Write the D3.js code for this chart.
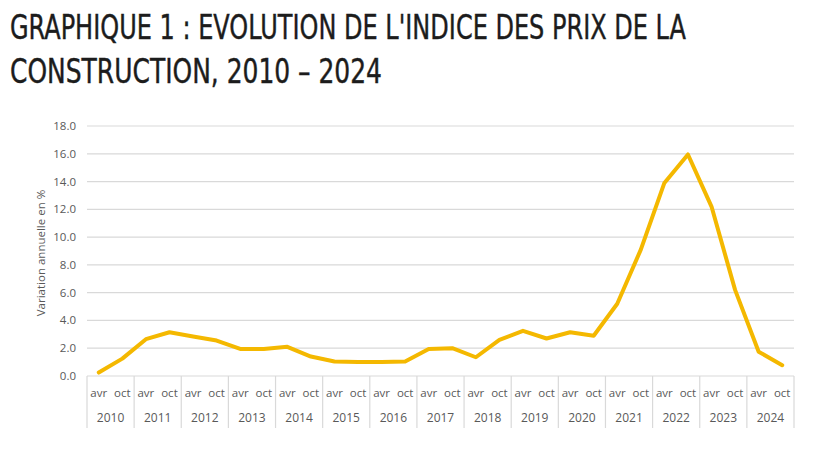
<!DOCTYPE html>
<html>
<head>
<meta charset="utf-8">
<script src="https://cdn.jsdelivr.net/npm/d3@7"></script>
<style>
  body { margin: 0; background: #fff; }
  svg { display: block; }
</style>
</head>
<body>
<script>
// data
var years = ['2010','2011','2012','2013','2014','2015','2016','2017','2018','2019','2020','2021','2022','2023','2024'];
var halves = ['avr','oct'];
var values = [0.25, 1.25, 2.65, 3.15, 2.85, 2.55, 1.95, 1.95, 2.1, 1.4,
              1.05, 1.0, 1.0, 1.05, 1.95, 2.0, 1.35, 2.6, 3.25, 2.7,
              3.15, 2.9, 5.2, 9.1, 13.9, 15.95, 12.2, 6.2, 1.75, 0.78];
var yTicks = [0, 2, 4, 6, 8, 10, 12, 14, 16, 18];
var titleLines = ["GRAPHIQUE 1 : EVOLUTION DE L'INDICE DES PRIX DE LA", "CONSTRUCTION, 2010 – 2024"];
var yLabel = 'Variation annuelle en %';

var w = 820, h = 449;
// plot area (named to avoid window.top)
var plotLeft = 87, plotRight = 794, plotTop = 126, plotBottom = 376;

var svg = d3.select('body').append('svg')
  .attr('width', w)
  .attr('height', h);

// title
var titleWidths = [676, 372];
svg.selectAll('text.title')
  .data(titleLines)
  .join('text')
  .attr('class', 'title')
  .attr('x', 10)
  .attr('y', function(d, i){ return 39 + i * 44 })
  .attr('textLength', function(d, i){ return titleWidths[i] })
  .attr('lengthAdjust', 'spacingAndGlyphs')
  .style('font-family', '"Liberation Sans Narrow", "DejaVu Sans Condensed", sans-serif')
  .style('font-size', '33px')
  .style('fill', '#1c1c1c')
  .style('stroke', '#1c1c1c')
  .style('stroke-width', 0.4)
  .text(function(d){ return d });

// periods: one per half-year
var periods = [];
years.forEach(function(yr){
  halves.forEach(function(hf){ periods.push(yr + '-' + hf) });
});

var x = d3.scaleBand().domain(periods).range([plotLeft, plotRight]);
var xYear = d3.scaleBand().domain(years).range([plotLeft, plotRight]);
var y = d3.scaleLinear().domain([0, 18]).range([plotBottom, plotTop]);

// gridlines
svg.append('g')
  .selectAll('line')
  .data(yTicks)
  .join('line')
  .attr('x1', plotLeft)
  .attr('x2', plotRight)
  .attr('y1', function(d){ return y(d) })
  .attr('y2', function(d){ return y(d) })
  .attr('stroke', '#d9d9d9')
  .attr('stroke-width', 1.2);

// y tick labels
svg.append('g')
  .selectAll('text')
  .data(yTicks)
  .join('text')
  .attr('x', 76)
  .attr('y', function(d){ return y(d) })
  .attr('dy', '0.35em')
  .attr('text-anchor', 'end')
  .style('font-family', '"Open Sans", sans-serif')
  .style('font-size', '11.5px')
  .style('fill', '#595959')
  .text(function(d){ return d.toFixed(1) });

// y axis title
svg.append('text')
  .attr('transform', 'translate(41,' + ((plotTop + plotBottom) / 2 + 2) + ') rotate(-90)')
  .attr('text-anchor', 'middle')
  .attr('dy', '0.35em')
  .style('font-family', '"Open Sans", sans-serif')
  .style('font-size', '11.5px')
  .style('fill', '#595959')
  .text(yLabel);

// category separators
var seps = years.map(function(d){ return xYear(d) }).concat([plotRight]);
svg.append('g')
  .selectAll('line')
  .data(seps)
  .join('line')
  .attr('x1', function(d){ return d })
  .attr('x2', function(d){ return d })
  .attr('y1', plotBottom)
  .attr('y2', 428)
  .attr('stroke', '#d9d9d9')
  .attr('stroke-width', 1.2);

// avr / oct labels
svg.append('g')
  .selectAll('text')
  .data(periods)
  .join('text')
  .attr('x', function(d){ return x(d) + x.bandwidth() / 2 })
  .attr('y', 393)
  .attr('dy', '0.35em')
  .attr('text-anchor', 'middle')
  .style('font-family', '"Open Sans", sans-serif')
  .style('font-size', '11.5px')
  .style('fill', '#595959')
  .text(function(d){ return d.split('-')[1] });

// year labels
svg.append('g')
  .selectAll('text')
  .data(years)
  .join('text')
  .attr('x', function(d){ return xYear(d) + xYear.bandwidth() / 2 })
  .attr('y', 418)
  .attr('dy', '0.35em')
  .attr('text-anchor', 'middle')
  .style('font-family', '"Open Sans", sans-serif')
  .style('font-size', '12px')
  .style('fill', '#595959')
  .text(function(d){ return d });

// the line
var line = d3.line()
  .x(function(d, i){ return x(periods[i]) + x.bandwidth() / 2 })
  .y(function(d){ return y(d) });

svg.append('path')
  .datum(values)
  .attr('d', line)
  .attr('fill', 'none')
  .attr('stroke', '#f4b800')
  .attr('stroke-width', 4)
  .attr('stroke-linejoin', 'round')
  .attr('stroke-linecap', 'round');
</script>
</body>
</html>
